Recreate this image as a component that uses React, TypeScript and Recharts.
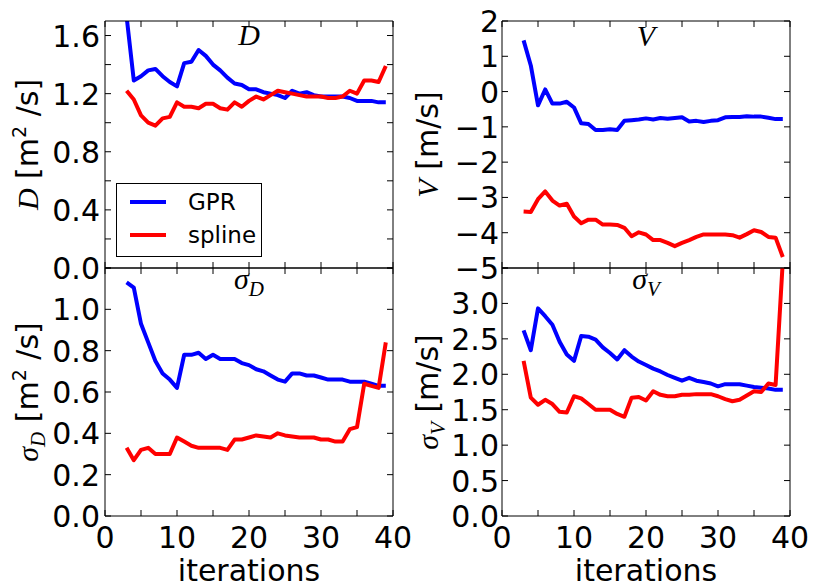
import React from 'react';
import { LineChart, Line, XAxis, YAxis, Legend } from 'recharts';

const iterations = [3, 4, 5, 6, 7, 8, 9, 10, 11, 12, 13, 14, 15, 16, 17, 18, 19, 20, 21, 22, 23, 24, 25, 26, 27, 28, 29, 30, 31, 32, 33, 34, 35, 36, 37, 38, 39];

const gprD = [1.73, 1.29, 1.32, 1.36, 1.37, 1.32, 1.28, 1.25, 1.41, 1.42, 1.5, 1.46, 1.4, 1.36, 1.31, 1.27, 1.26, 1.23, 1.23, 1.21, 1.2, 1.19, 1.17, 1.22, 1.2, 1.21, 1.19, 1.18, 1.18, 1.18, 1.18, 1.17, 1.15, 1.15, 1.15, 1.14, 1.14];
const splineD = [1.22, 1.16, 1.05, 1.0, 0.98, 1.03, 1.04, 1.14, 1.11, 1.11, 1.1, 1.13, 1.13, 1.1, 1.09, 1.14, 1.11, 1.15, 1.18, 1.16, 1.19, 1.22, 1.21, 1.2, 1.19, 1.18, 1.18, 1.18, 1.17, 1.17, 1.18, 1.22, 1.2, 1.29, 1.29, 1.28, 1.39];

const gprV = [1.45, 0.74, -0.39, 0.06, -0.34, -0.34, -0.29, -0.45, -0.9, -0.92, -1.09, -1.09, -1.07, -1.09, -0.83, -0.81, -0.79, -0.76, -0.79, -0.75, -0.77, -0.75, -0.73, -0.85, -0.83, -0.86, -0.83, -0.81, -0.73, -0.72, -0.72, -0.7, -0.71, -0.71, -0.74, -0.78, -0.78];
const splineV = [-3.4, -3.41, -3.05, -2.83, -3.09, -3.23, -3.18, -3.54, -3.73, -3.63, -3.63, -3.77, -3.77, -3.78, -3.86, -4.1, -3.99, -4.05, -4.21, -4.21, -4.29, -4.38, -4.29, -4.21, -4.12, -4.05, -4.05, -4.05, -4.05, -4.07, -4.14, -4.04, -3.93, -3.98, -4.12, -4.14, -4.69];

const gprSigmaD = [1.13, 1.105, 0.93, 0.84, 0.75, 0.69, 0.66, 0.62, 0.78, 0.78, 0.79, 0.76, 0.78, 0.76, 0.76, 0.76, 0.74, 0.73, 0.71, 0.7, 0.68, 0.66, 0.65, 0.69, 0.69, 0.68, 0.68, 0.67, 0.66, 0.66, 0.66, 0.65, 0.65, 0.65, 0.64, 0.63, 0.63];
const splineSigmaD = [0.33, 0.27, 0.32, 0.33, 0.3, 0.3, 0.3, 0.38, 0.36, 0.34, 0.33, 0.33, 0.33, 0.33, 0.32, 0.37, 0.37, 0.38, 0.39, 0.385, 0.38, 0.4, 0.39, 0.385, 0.38, 0.38, 0.38, 0.37, 0.37, 0.36, 0.36, 0.42, 0.43, 0.64, 0.63, 0.62, 0.84];

const gprSigmaV = [2.62, 2.34, 2.93, 2.82, 2.7, 2.46, 2.28, 2.19, 2.54, 2.53, 2.49, 2.38, 2.3, 2.21, 2.34, 2.25, 2.18, 2.13, 2.08, 2.04, 1.99, 1.95, 1.91, 1.95, 1.91, 1.89, 1.87, 1.83, 1.86, 1.86, 1.86, 1.84, 1.82, 1.81, 1.8, 1.78, 1.78];
const splineSigmaV = [2.19, 1.67, 1.57, 1.64, 1.58, 1.47, 1.46, 1.69, 1.66, 1.58, 1.5, 1.5, 1.5, 1.44, 1.4, 1.67, 1.68, 1.63, 1.76, 1.71, 1.69, 1.69, 1.71, 1.71, 1.72, 1.72, 1.72, 1.69, 1.65, 1.62, 1.64, 1.7, 1.76, 1.75, 1.87, 1.85, 3.6];

const xTicks = [0, 5, 10, 15, 20, 25, 30, 35, 40];
const xTickLabels = [0, 10, 20, 30, 40];
const dTicks = [0, 0.2, 0.4, 0.6, 0.8, 1.0, 1.2, 1.4, 1.6];
const dTickLabels = [0, 0.4, 0.8, 1.2, 1.6];
const vTicks = [-5, -4, -3, -2, -1, 0, 1, 2];
const sigmaDTicks = [0, 0.2, 0.4, 0.6, 0.8, 1.0, 1.2];
const sigmaDTickLabels = [0, 0.2, 0.4, 0.6, 0.8, 1.0];
const sigmaVTicks = [0, 0.5, 1.0, 1.5, 2.0, 2.5, 3.0, 3.5];
const sigmaVTickLabels = [0, 0.5, 1.0, 1.5, 2.0, 2.5, 3.0];

const SANS = '"DejaVu Sans", sans-serif';
const SERIF = '"Liberation Serif", "DejaVu Serif", serif';
const TICK_LEN = 6;
const PLOT_W = 288;
const AX = 1; // axis band size (a 0-sized axis is not drawn)

const hasValue = (list: number[], v: number) => list.some((t) => Math.abs(t - v) < 1e-6);
const fmt = (v: number, decimals: number) => {
  const s = Math.abs(v).toFixed(decimals);
  return v < -1e-9 ? '\u2212' + s : s;
};

function BottomTick(props: any) {
  const { x, y, payload, showLabel } = props;
  return (
    <g>
      <line x1={x} x2={x} y1={y} y2={y - TICK_LEN} stroke="#000" />
      {showLabel && hasValue(xTickLabels, payload.value) && (
        <text x={x} y={y + 32} textAnchor="middle" fontSize={30} fontFamily={SANS} fill="#000">
          {payload.value}
        </text>
      )}
    </g>
  );
}

function TopTick(props: any) {
  const { x, y } = props;
  return <line x1={x} x2={x} y1={y} y2={y + TICK_LEN} stroke="#000" />;
}

function LeftTick(props: any) {
  const { x, y, payload, labels, decimals, gap } = props;
  return (
    <g>
      <line x1={x} x2={x + TICK_LEN} y1={y} y2={y} stroke="#000" />
      {hasValue(labels, payload.value) && (
        <text x={x - gap} y={y + 11} textAnchor="end" fontSize={30} fontFamily={SANS} fill="#000">
          {fmt(payload.value, decimals)}
        </text>
      )}
    </g>
  );
}

function RightTick(props: any) {
  const { x, y } = props;
  return <line x1={x} x2={x - TICK_LEN} y1={y} y2={y} stroke="#000" />;
}

function TitleLabel(props: any) {
  const { viewBox, drop, children } = props;
  return (
    <text x={viewBox.x + viewBox.width / 2} y={viewBox.y + viewBox.height + drop} textAnchor="middle" fill="#000">
      {children}
    </text>
  );
}

function YTitle(props: any) {
  const { viewBox, inset, children } = props;
  const cx = viewBox.x + viewBox.width - inset;
  const cy = viewBox.y + viewBox.height / 2;
  return (
    <text x={cx} y={cy} transform={`rotate(-90 ${cx} ${cy})`} textAnchor="middle" fill="#000">
      {children}
    </text>
  );
}

function XTitle(props: any) {
  const { viewBox } = props;
  return (
    <text x={viewBox.x + viewBox.width / 2} y={viewBox.y + 65} textAnchor="middle" fontSize={30} fontFamily={SANS} fill="#000">
      iterations
    </text>
  );
}

function LegendBox(props: any) {
  const { payload } = props;
  return (
    <div style={{ position: 'relative', width: 146, height: 74, border: '1px solid #000', background: '#fff', boxSizing: 'border-box' }}>
      {(payload || []).map((entry: any, i: number) => (
        <div key={entry.value} style={{ position: 'absolute', left: 0, top: 2 + i * 33, height: 32, width: 144 }}>
          <svg width={40} height={32} style={{ position: 'absolute', left: 13, top: 0 }}>
            <line x1={0} x2={36} y1={16} y2={16} stroke={entry.color} strokeWidth={4} />
          </svg>
          <span style={{ position: 'absolute', left: 71, top: 1, fontFamily: SANS, fontSize: 23, lineHeight: '30px', color: '#000' }}>
            {entry.value}
          </span>
        </div>
      ))}
    </div>
  );
}

interface PanelProps {
  gpr: number[];
  spline: number[];
  left: number;
  top: number;
  height: number;
  domain: [number, number];
  yTicks: number[];
  yLabels: number[];
  decimals: number;
  labelGap: number;
  yLabelInset: number;
  titleDrop: number;
  showX: boolean;
  legend?: boolean;
  title: React.ReactNode;
  yTitle: React.ReactNode;
}

function Panel(p: PanelProps) {
  const data = iterations.map((it, i) => ({ it, gpr: p.gpr[i], spline: p.spline[i] }));
  const margin = {
    top: p.top - AX,
    left: p.left - AX,
    right: 813 - p.left - PLOT_W - AX,
    bottom: 587 - p.top - p.height - AX,
  };
  const axisLine = { stroke: '#000', strokeWidth: 1 };
  return (
    <div style={{ position: 'absolute', left: 0, top: 0 }}>
      <LineChart width={813} height={587} data={data} margin={margin}>
        <XAxis
          dataKey="it"
          type="number"
          domain={[0, 40]}
          ticks={xTicks}
          interval={0}
          height={AX}
          tickSize={0}
          tickMargin={0}
          tickLine={false}
          axisLine={axisLine}
          tick={(t: any) => <BottomTick {...t} showLabel={p.showX} />}
          label={p.showX ? <XTitle /> : undefined}
        />
        <XAxis
          xAxisId="top"
          orientation="top"
          dataKey="it"
          type="number"
          domain={[0, 40]}
          ticks={xTicks}
          interval={0}
          height={AX}
          tickSize={0}
          tickMargin={0}
          tickLine={false}
          axisLine={axisLine}
          tick={(t: any) => <TopTick {...t} />}
          label={<TitleLabel drop={p.titleDrop}>{p.title}</TitleLabel>}
        />
        <YAxis
          type="number"
          domain={p.domain}
          allowDataOverflow
          ticks={p.yTicks}
          interval={0}
          width={AX}
          tickSize={0}
          tickMargin={0}
          tickLine={false}
          axisLine={axisLine}
          tick={(t: any) => <LeftTick {...t} labels={p.yLabels} decimals={p.decimals} gap={p.labelGap} />}
          label={<YTitle inset={p.yLabelInset}>{p.yTitle}</YTitle>}
        />
        <YAxis
          yAxisId="right"
          orientation="right"
          type="number"
          domain={p.domain}
          allowDataOverflow
          ticks={p.yTicks}
          interval={0}
          width={AX}
          tickSize={0}
          tickMargin={0}
          tickLine={false}
          axisLine={axisLine}
          tick={(t: any) => <RightTick {...t} />}
        />
        <Line dataKey="gpr" name="GPR" stroke="#0000ff" strokeWidth={4} dot={false} isAnimationActive={false} strokeLinejoin="round" />
        <Line dataKey="spline" name="spline" stroke="#ff0000" strokeWidth={4} dot={false} isAnimationActive={false} strokeLinejoin="round" />
        {p.legend && (
          <Legend
            layout="vertical"
            align="center"
            verticalAlign="middle"
            content={<LegendBox />}
            wrapperStyle={{ left: 116, top: 183, width: 146, height: 74 }}
          />
        )}
      </LineChart>
    </div>
  );
}

const mathIt = { fontFamily: SERIF, fontStyle: 'italic' as const };

export default function App() {
  return (
    <div style={{ position: 'absolute', left: 0, top: 0, width: 813, height: 587, background: '#fff' }}>
      <Panel
        gpr={gprD}
        spline={splineD}
        left={105}
        top={21}
        height={247}
        domain={[0, 1.7]}
        yTicks={dTicks}
        yLabels={dTickLabels}
        decimals={1}
        labelGap={5}
        yLabelInset={67}
        titleDrop={24}
        showX={false}
        legend
        title={<tspan {...mathIt} fontSize={30}>D</tspan>}
        yTitle={
          <>
            <tspan {...mathIt} fontSize={30}>D</tspan>
            <tspan fontFamily={SANS} fontSize={30}>{'\u00a0[m'}</tspan>
            <tspan fontFamily={SANS} fontSize={19} dy={-12}>2</tspan>
            <tspan fontFamily={SANS} fontSize={30} dy={12}>{'\u00a0/s]'}</tspan>
          </>
        }
      />
      <Panel
        gpr={gprV}
        spline={splineV}
        left={502}
        top={21}
        height={247}
        domain={[-5, 2]}
        yTicks={vTicks}
        yLabels={vTicks}
        decimals={0}
        labelGap={3}
        yLabelInset={64}
        titleDrop={25}
        showX={false}
        title={<tspan {...mathIt} fontSize={30}>V</tspan>}
        yTitle={
          <>
            <tspan {...mathIt} fontSize={30}>V</tspan>
            <tspan fontFamily={SANS} fontSize={30}>{'\u00a0[m/s]'}</tspan>
          </>
        }
      />
      <Panel
        gpr={gprSigmaD}
        spline={splineSigmaD}
        left={105}
        top={268}
        height={248}
        domain={[0, 1.2]}
        yTicks={sigmaDTicks}
        yLabels={sigmaDTickLabels}
        decimals={1}
        labelGap={5}
        yLabelInset={67}
        titleDrop={21}
        showX
        title={
          <>
            <tspan {...mathIt} fontSize={30}>σ</tspan>
            <tspan {...mathIt} fontSize={21} dy={7}>D</tspan>
          </>
        }
        yTitle={
          <>
            <tspan {...mathIt} fontSize={30}>σ</tspan>
            <tspan {...mathIt} fontSize={21} dy={7}>D</tspan>
            <tspan fontFamily={SANS} fontSize={30} dy={-7}>{'\u00a0[m'}</tspan>
            <tspan fontFamily={SANS} fontSize={19} dy={-12}>2</tspan>
            <tspan fontFamily={SANS} fontSize={30} dy={12}>{'\u00a0/s]'}</tspan>
          </>
        }
      />
      <Panel
        gpr={gprSigmaV}
        spline={splineSigmaV}
        left={502}
        top={268}
        height={248}
        domain={[0, 3.5]}
        yTicks={sigmaVTicks}
        yLabels={sigmaVTickLabels}
        decimals={1}
        labelGap={3}
        yLabelInset={64}
        titleDrop={21}
        showX
        title={
          <>
            <tspan {...mathIt} fontSize={30}>σ</tspan>
            <tspan {...mathIt} fontSize={21} dy={7}>V</tspan>
          </>
        }
        yTitle={
          <>
            <tspan {...mathIt} fontSize={30}>σ</tspan>
            <tspan {...mathIt} fontSize={21} dy={7}>V</tspan>
            <tspan fontFamily={SANS} fontSize={30} dy={-7}>{'\u00a0[m/s]'}</tspan>
          </>
        }
      />
    </div>
  );
}
